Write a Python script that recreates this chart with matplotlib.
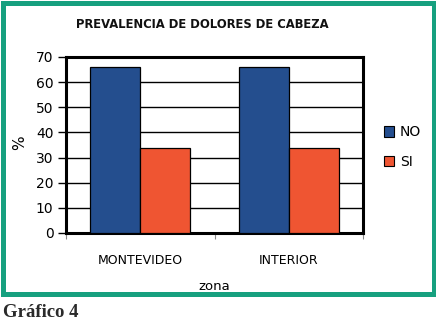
import numpy as np
import matplotlib.pyplot as plt
from matplotlib import font_manager as fm
from matplotlib.patches import Rectangle, Patch

zonas = ['MONTEVIDEO', 'INTERIOR']
no_vals = [66, 66]
si_vals = [34, 34]
series_labels = ['NO', 'SI']
yticks = [0, 10, 20, 30, 40, 50, 60, 70]

# the title is set in a condensed bold face; use one if the system has it
title_font = fm.FontProperties(family='Lato', weight='bold', size=9.6)
for f in fm.fontManager.ttflist:
    narrow = f.stretch in ('condensed', 'semi-condensed', 'extra-condensed') \
        or 'Narrow' in f.name or 'Condensed' in f.name
    if narrow and f.weight in ('bold', 700, 'heavy', 800, 'black', 900) and 'Oblique' not in f.fname \
            and 'Italic' not in f.fname and f.style == 'normal':
        title_font = fm.FontProperties(fname=f.fname, size=9.3)
        break

W, H = 436, 328
fig = plt.figure(figsize=(W / 100, H / 100), dpi=100)
fig.patch.set_facecolor('white')

# green frame around the chart
fig.patches.append(Rectangle((2.5 / W, (H - 293.5) / H), (433.5 - 2.5) / W, (293.5 - 2.5) / H,
                             transform=fig.transFigure, fill=False,
                             edgecolor='#16a07f', linewidth=3.6, zorder=0))

ax = fig.add_axes([66 / W, (H - 233) / H, 297 / W, 176 / H])

x = np.arange(len(zonas))
w = 0.336
ax.bar(x - w / 2, no_vals, w, color='#244e8e', edgecolor='black', linewidth=0.9,
       label=series_labels[0], zorder=3)
ax.bar(x + w / 2, si_vals, w, color='#ef5532', edgecolor='black', linewidth=0.9,
       label=series_labels[1], zorder=3)

ax.set_xlim(-0.5, 1.5)
ax.set_ylim(0, 70)
ax.set_yticks(yticks)
ax.yaxis.grid(True, color='black', linewidth=1.0, zorder=0)
ax.set_axisbelow(True)

ax.set_xticks(x)
ax.set_xticklabels(zonas, fontsize=9, family='DejaVu Sans')
ax.set_xticks([-0.5, 0.5, 1.5], minor=True)
ax.tick_params(axis='x', which='major', length=0, pad=15)
ax.tick_params(axis='x', which='minor', length=4, color='#888888', width=0.8)
ax.tick_params(axis='y', length=6, width=1, color='black', labelsize=10, pad=3)

for s in ax.spines.values():
    s.set_linewidth(2.2)
    s.set_color('black')

ax.set_xlabel('zona', fontsize=9.5, va='center')
ax.xaxis.set_label_coords(0.5, (233 - 286) / 176)
ax.set_ylabel('%', fontsize=11, va='center')
ax.yaxis.set_label_coords((20 - 66) / 297, (233 - 143) / 176)

handles = [Patch(facecolor='#244e8e', edgecolor='black', linewidth=0.8),
           Patch(facecolor='#ef5532', edgecolor='black', linewidth=0.8)]
fig.legend(handles, series_labels, loc='center left',
           bbox_to_anchor=(384 / W, (H - 147) / H), frameon=False,
           fontsize=10, handlelength=0.75, handleheight=0.75,
           handletextpad=0.4, labelspacing=1.1, borderpad=0, borderaxespad=0)

fig.text(202 / W, (H - 25) / H, 'PREVALENCIA DE DOLORES DE CABEZA',
         ha='center', va='center', fontproperties=title_font, color='#111111')

fig.text(3 / W, (H - 317) / H, 'Gráfico 4', ha='left', va='baseline',
         fontsize=13.5, fontweight='bold', family='Liberation Serif', color='#2a2a2a')

fig.savefig('out.png', dpi=100)
